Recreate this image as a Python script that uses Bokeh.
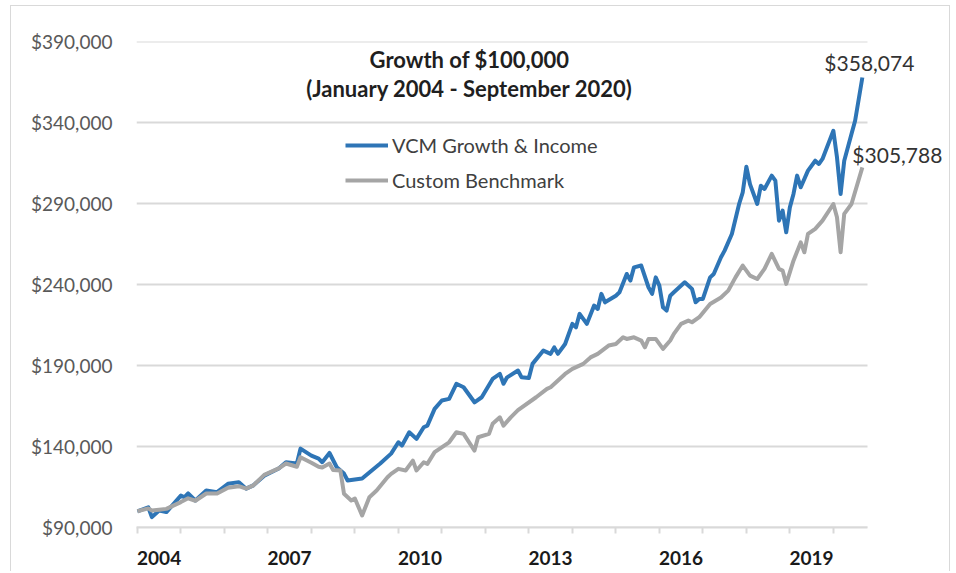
from bokeh.plotting import figure
from bokeh.models import (Range1d, FixedTicker, NumeralTickFormatter, Label,
                          CustomJSTickFormatter)
from bokeh.embed import file_html
from bokeh.resources import INLINE

# ---------------- data ----------------
series_names = ["VCM Growth & Income", "Custom Benchmark"]
title_lines = ["Growth of $100,000", "(January 2004 - September 2020)"]
end_labels = ["$358,074", "$305,788"]
year_labels = ["2004", "2007", "2010", "2013", "2016", "2019"]
year_bounds = list(range(2004, 2021))
y_ticks = [90000, 140000, 190000, 240000, 290000, 340000, 390000]

vcm_dates = ["2004-01", "2004-04", "2004-05", "2004-07", "2004-09", "2005-01", "2005-02", "2005-03",
             "2005-05", "2005-08", "2005-11", "2006-02", "2006-05", "2006-07", "2006-09", "2006-12",
             "2007-04", "2007-06", "2007-09", "2007-10", "2008-01", "2008-03", "2008-04", "2008-06",
             "2008-08", "2008-10", "2008-11", "2009-03", "2009-05", "2009-08", "2009-11", "2010-01",
             "2010-02", "2010-04", "2010-06", "2010-08", "2010-09", "2010-11", "2011-01", "2011-03",
             "2011-05", "2011-07", "2011-10", "2011-12", "2012-03", "2012-05", "2012-06", "2012-07",
             "2012-10", "2012-11", "2013-01", "2013-02", "2013-05", "2013-07", "2013-08", "2013-09",
             "2013-11", "2014-01", "2014-02", "2014-03", "2014-05", "2014-07", "2014-08", "2014-09",
             "2014-10", "2015-01", "2015-02", "2015-04", "2015-05", "2015-06", "2015-08", "2015-10",
             "2015-11", "2015-12", "2016-01", "2016-02", "2016-03", "2016-04", "2016-05", "2016-08",
             "2016-10", "2016-11", "2016-12", "2017-01", "2017-03", "2017-04", "2017-06", "2017-07",
             "2017-09", "2017-11", "2017-12", "2018-01", "2018-02", "2018-04", "2018-05", "2018-06",
             "2018-08", "2018-09", "2018-10", "2018-11", "2018-12", "2019-01", "2019-02", "2019-03",
             "2019-04", "2019-06", "2019-08", "2019-09", "2019-10", "2020-01", "2020-02", "2020-03",
             "2020-04", "2020-06", "2020-07", "2020-09"]
vcm_values = [100000, 102500, 96400, 100500, 99500, 109700, 108700, 111000,
              106700, 112800, 111800, 117000, 118000, 114000, 116000, 122000,
              126400, 130300, 129500, 138700, 134400, 132500, 130300, 136000,
              127200, 123300, 119000, 120200, 124000, 129500, 135600, 142600,
              140600, 148800, 144700, 151900, 152900, 163200, 168400, 169400,
              178700, 176600, 167300, 170400, 181700, 184800, 178700, 182700,
              186900, 182700, 182300, 191000, 199200, 197200, 201200, 197200,
              203300, 215700, 213600, 221900, 215700, 227000, 224900, 234200,
              229000, 233100, 235200, 246500, 242400, 250600, 251700, 238300,
              234200, 244400, 239300, 225900, 223900, 233100, 235200, 241400,
              237300, 229000, 231100, 231100, 244400, 246500, 256800, 260900,
              271200, 289700, 296900, 312700, 302000, 289700, 301000, 299000,
              307200, 304100, 279400, 285600, 272200, 287600, 295900, 307200,
              300000, 310300, 316400, 314400, 317500, 334900, 318500, 295900,
              316400, 332900, 341100, 367800]

bench_dates = ["2004-01", "2004-04", "2004-05", "2004-07", "2004-09", "2005-01", "2005-03", "2005-05",
               "2005-08", "2005-11", "2006-02", "2006-05", "2006-07", "2006-09", "2006-12", "2007-04",
               "2007-06", "2007-09", "2007-10", "2008-01", "2008-03", "2008-04", "2008-06", "2008-07",
               "2008-09", "2008-10", "2008-12", "2009-01", "2009-03", "2009-05", "2009-07", "2009-10",
               "2009-11", "2010-01", "2010-03", "2010-05", "2010-06", "2010-08", "2010-09", "2010-11",
               "2011-03", "2011-05", "2011-07", "2011-10", "2011-11", "2012-02", "2012-03", "2012-05",
               "2012-06", "2012-08", "2012-10", "2013-03", "2013-06", "2013-07", "2013-11", "2014-01",
               "2014-04", "2014-06", "2014-08", "2014-11", "2015-01", "2015-03", "2015-04", "2015-06",
               "2015-08", "2015-09", "2015-10", "2015-12", "2016-02", "2016-04", "2016-05", "2016-07",
               "2016-09", "2016-10", "2016-12", "2017-03", "2017-06", "2017-08", "2017-10", "2017-12",
               "2018-02", "2018-04", "2018-06", "2018-08", "2018-10", "2018-11", "2018-12", "2019-02",
               "2019-04", "2019-05", "2019-06", "2019-08", "2019-10", "2020-01", "2020-02", "2020-03",
               "2020-04", "2020-06", "2020-09"]
bench_values = [100000, 101800, 100500, 101000, 101500, 105700, 108000, 106500,
                111000, 111000, 114500, 115500, 114000, 116000, 122500, 126500,
                129500, 127500, 133400, 130000, 127500, 127000, 129500, 125500,
                125200, 110800, 106700, 107900, 97400, 108700, 112800, 121000,
                123100, 126200, 125200, 131300, 125200, 130300, 129300, 136500,
                142600, 148800, 147800, 137500, 145700, 147800, 154000, 158000,
                152900, 158000, 162500, 170400, 175600, 176600, 184800, 187900,
                191000, 195000, 197200, 202300, 203300, 207400, 206400, 207400,
                205400, 201200, 206400, 206400, 200300, 205400, 209500, 215700,
                217700, 216700, 219800, 228000, 232000, 236200, 244400, 251700,
                245500, 243400, 249600, 258900, 249600, 248600, 240400, 254700,
                266000, 259900, 271200, 274300, 279400, 289700, 281500, 259900,
                283600, 289700, 312300]

series_colors = ["#2E75B6", "#A5A5A5"]


def to_year(s):
    y, m = s.split("-")
    return int(y) + (int(m) - 1) / 12.0


vcm_x = [to_year(d) for d in vcm_dates]
bench_x = [to_year(d) for d in bench_dates]

# ---------------- figure ----------------
FONT = "Lato"
X0 = 2003.98            # left edge of plot area
X_AXIS_END = 2020.785   # right end of axis line / gridlines
X_RANGE_END = 2022.716  # frame extends under the end labels

p = figure(width=940, height=566, output_backend="svg", toolbar_location=None,
           x_range=Range1d(X0, X_RANGE_END), y_range=Range1d(90000, 390000),
           min_border_left=125, min_border_right=0, min_border_top=35, min_border_bottom=45,
           background_fill_color="white", border_fill_color="white")
p.outline_line_color = None
p.styles = {"margin-left": "10px", "margin-top": "5px",
            "border-left": "1px solid #d9d9d9", "border-top": "1px solid #d9d9d9",
            "border-right": "1px solid #d9d9d9"}

# y axis
p.yaxis.ticker = FixedTicker(ticks=y_ticks)
p.yaxis.formatter = NumeralTickFormatter(format="$0,0")
p.yaxis.axis_line_color = None
p.yaxis.major_tick_line_color = None
p.yaxis.minor_tick_line_color = None
p.yaxis.major_tick_out = 0
p.yaxis.major_tick_in = 0
p.yaxis.major_label_standoff = 24
p.yaxis.major_label_text_font = FONT
p.yaxis.major_label_text_font_size = "19px"
p.yaxis.major_label_text_color = "#595959"

# x axis: labels centred in year bands, tick marks at year boundaries
p.xaxis.ticker = FixedTicker(ticks=[int(y) + 0.5 for y in year_labels], minor_ticks=year_bounds)
p.xaxis.formatter = CustomJSTickFormatter(code="return String(Math.floor(tick));")
p.xaxis.bounds = (X0, X_AXIS_END)
p.xaxis.axis_line_color = "#d9d9d9"
p.xaxis.axis_line_width = 2
p.xaxis.major_tick_line_color = None
p.xaxis.major_tick_out = 0
p.xaxis.major_tick_in = 0
p.xaxis.minor_tick_line_color = "#d9d9d9"
p.xaxis.minor_tick_line_width = 2
p.xaxis.minor_tick_out = 6
p.xaxis.minor_tick_in = 0
p.xaxis.major_label_standoff = 17
p.xaxis.major_label_text_font = FONT
p.xaxis.major_label_text_font_style = "bold"
p.xaxis.major_label_text_font_size = "19px"
p.xaxis.major_label_text_color = "#1a1a1a"

# grid (drawn only across the dated part of the plot)
p.xgrid.grid_line_color = None
p.ygrid.grid_line_color = None
p.segment(x0=[X0] * len(y_ticks), y0=y_ticks, x1=[X_AXIS_END] * len(y_ticks), y1=y_ticks,
          line_color="#d9d9d9", line_width=2)

# lines
p.line(vcm_x, vcm_values, line_color=series_colors[0], line_width=4, line_join="round",
       legend_label=series_names[0])
p.line(bench_x, bench_values, line_color=series_colors[1], line_width=4, line_join="round",
       legend_label=series_names[1])

# legend
lg = p.legend[0]
lg.location = (209, 335)
lg.orientation = "vertical"
lg.border_line_color = None
lg.background_fill_alpha = 0
lg.padding = 0
lg.margin = 0
lg.spacing = 11
lg.glyph_width = 43
lg.glyph_height = 20
lg.label_height = 20
lg.label_standoff = 4
lg.label_text_font = FONT
lg.label_text_font_size = "20px"
lg.label_text_color = "#404040"

# title (inside plot area)
p.add_layout(Label(x=333, y=468, x_units="screen", y_units="screen", text=title_lines[0],
                   text_align="center", text_baseline="middle", text_font=FONT,
                   text_font_style="bold", text_font_size="22px", text_color="#1f1f1f"))
p.add_layout(Label(x=333, y=439, x_units="screen", y_units="screen", text=title_lines[1],
                   text_align="center", text_baseline="middle", text_font=FONT,
                   text_font_style="bold", text_font_size="22px", text_color="#1f1f1f"))

# end-value labels
p.add_layout(Label(x=vcm_x[-1], y=vcm_values[-1], x_offset=-38, y_offset=15, text=end_labels[0],
                   text_align="left", text_baseline="middle", text_font=FONT,
                   text_font_size="21px", text_color="#333333"))
p.add_layout(Label(x=bench_x[-1], y=bench_values[-1], x_offset=-10, y_offset=13, text=end_labels[1],
                   text_align="left", text_baseline="middle", text_font=FONT,
                   text_font_size="21px", text_color="#333333"))

open("out.html", "w").write(file_html(p, INLINE))
